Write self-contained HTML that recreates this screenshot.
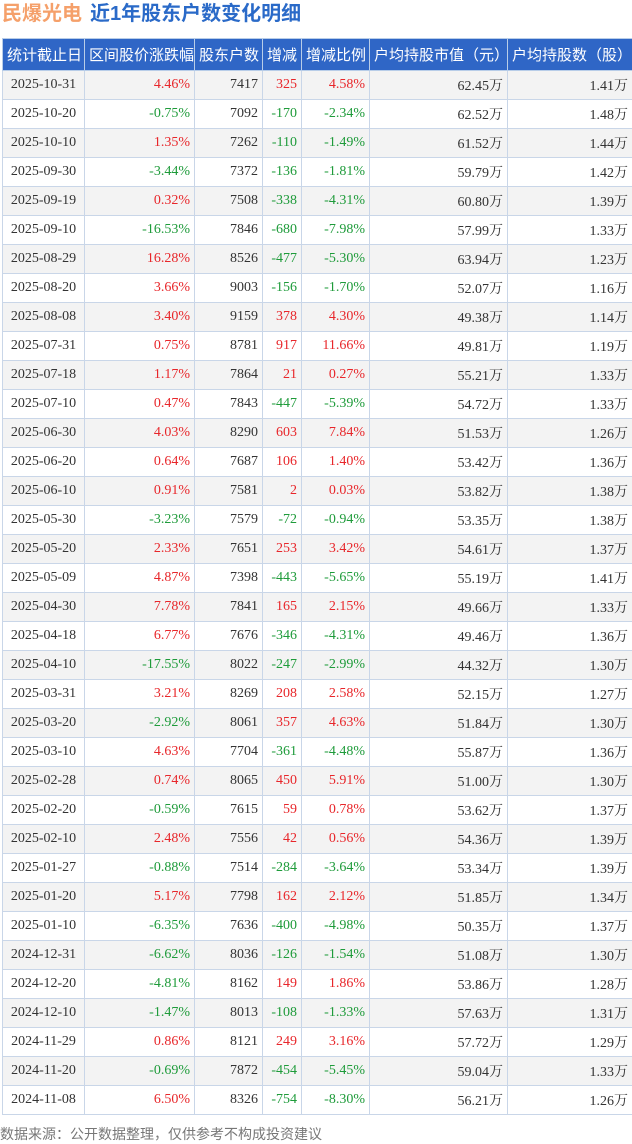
<!DOCTYPE html><html><head><meta charset="utf-8"><style>
body{margin:0;width:632px;height:1144px;background:#fff;font-family:"Liberation Serif","Noto Serif CJK SC",serif;position:relative;overflow:hidden}
.t{position:absolute;top:0;left:2px;font:bold 20px "Liberation Sans","Noto Sans CJK SC",sans-serif;line-height:28px}
.t .a{color:#f5a06a}.t .b{color:#2a6ac8;margin-left:8px}
table{position:absolute;left:2px;top:38px;border-collapse:collapse;table-layout:fixed;width:630px}
th{background:#2f66c6;color:#fff;height:31px;font:15px "Liberation Sans","Noto Sans CJK SC",sans-serif;border:1px solid #b8cde8;padding:0 4px;text-align:center;white-space:nowrap}
td{height:28px;border:1px solid #c9d6e8;font-size:14px;color:#333;text-align:right;padding:0 4px;white-space:nowrap}
td:first-child{text-align:center}
tr:nth-child(odd) td{background:#f3f3f3}
.r{color:#e8262a}.g{color:#1e9b3a}
.f{position:absolute;left:0;top:1124px;font:14px "Liberation Sans","Noto Sans CJK SC",sans-serif;color:#777}
</style></head><body>
<div class="t"><span class="a">民爆光电</span><span class="b">近1年股东户数变化明细</span></div>
<table><colgroup><col style="width:82px"><col style="width:110px"><col style="width:68px"><col style="width:39px"><col style="width:68px"><col style="width:138px"><col style="width:125px"></colgroup>
<thead><tr><th>统计截止日</th><th>区间股价涨跌幅</th><th>股东户数</th><th>增减</th><th>增减比例</th><th>户均持股市值（元）</th><th>户均持股数（股）</th></tr></thead>
<tbody id="b"></tbody></table>
<div class="f">数据来源：公开数据整理，仅供参考不构成投资建议</div>
<script>
var d=`2025-10-31 4.46% 7417 325 4.58% 62.45 1.41
2025-10-20 -0.75% 7092 -170 -2.34% 62.52 1.48
2025-10-10 1.35% 7262 -110 -1.49% 61.52 1.44
2025-09-30 -3.44% 7372 -136 -1.81% 59.79 1.42
2025-09-19 0.32% 7508 -338 -4.31% 60.80 1.39
2025-09-10 -16.53% 7846 -680 -7.98% 57.99 1.33
2025-08-29 16.28% 8526 -477 -5.30% 63.94 1.23
2025-08-20 3.66% 9003 -156 -1.70% 52.07 1.16
2025-08-08 3.40% 9159 378 4.30% 49.38 1.14
2025-07-31 0.75% 8781 917 11.66% 49.81 1.19
2025-07-18 1.17% 7864 21 0.27% 55.21 1.33
2025-07-10 0.47% 7843 -447 -5.39% 54.72 1.33
2025-06-30 4.03% 8290 603 7.84% 51.53 1.26
2025-06-20 0.64% 7687 106 1.40% 53.42 1.36
2025-06-10 0.91% 7581 2 0.03% 53.82 1.38
2025-05-30 -3.23% 7579 -72 -0.94% 53.35 1.38
2025-05-20 2.33% 7651 253 3.42% 54.61 1.37
2025-05-09 4.87% 7398 -443 -5.65% 55.19 1.41
2025-04-30 7.78% 7841 165 2.15% 49.66 1.33
2025-04-18 6.77% 7676 -346 -4.31% 49.46 1.36
2025-04-10 -17.55% 8022 -247 -2.99% 44.32 1.30
2025-03-31 3.21% 8269 208 2.58% 52.15 1.27
2025-03-20 -2.92% 8061 357 4.63% 51.84 1.30
2025-03-10 4.63% 7704 -361 -4.48% 55.87 1.36
2025-02-28 0.74% 8065 450 5.91% 51.00 1.30
2025-02-20 -0.59% 7615 59 0.78% 53.62 1.37
2025-02-10 2.48% 7556 42 0.56% 54.36 1.39
2025-01-27 -0.88% 7514 -284 -3.64% 53.34 1.39
2025-01-20 5.17% 7798 162 2.12% 51.85 1.34
2025-01-10 -6.35% 7636 -400 -4.98% 50.35 1.37
2024-12-31 -6.62% 8036 -126 -1.54% 51.08 1.30
2024-12-20 -4.81% 8162 149 1.86% 53.86 1.28
2024-12-10 -1.47% 8013 -108 -1.33% 57.63 1.31
2024-11-29 0.86% 8121 249 3.16% 57.72 1.29
2024-11-20 -0.69% 7872 -454 -5.45% 59.04 1.33
2024-11-08 6.50% 8326 -754 -8.30% 56.21 1.26`;
var h='';d.split('\n').forEach(function(l){var c=l.split(' ');var k=function(v){return v[0]=='-'?'g':'r'};
h+='<tr><td>'+c[0]+'</td><td class="'+k(c[1])+'">'+c[1]+'</td><td>'+c[2]+'</td><td class="'+k(c[3])+'">'+c[3]+'</td><td class="'+k(c[4])+'">'+c[4]+'</td><td>'+c[5]+'万</td><td>'+c[6]+'万</td></tr>'});
document.getElementById('b').innerHTML=h;
</script></body></html>
